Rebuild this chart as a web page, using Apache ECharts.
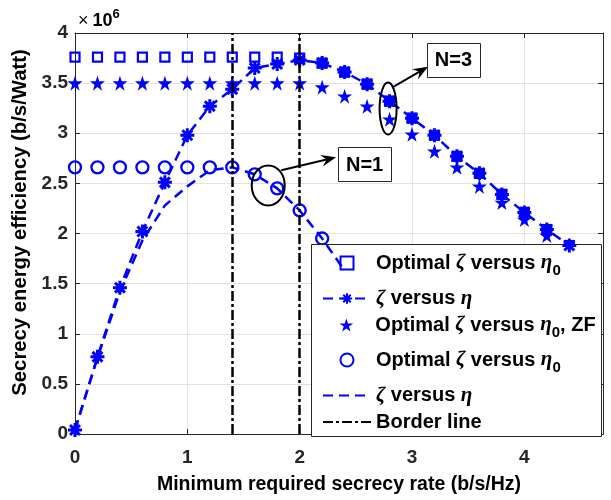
<!DOCTYPE html>
<html><head><meta charset="utf-8">
<script src="https://cdn.jsdelivr.net/npm/echarts@6/dist/echarts.min.js"></script>
<style>html,body{margin:0;padding:0;background:#fff}#c{width:611px;height:500px}</style>
</head><body><div id="c"></div>
<script>
// ---- data (values in units of 10^6 b/s/Watt) ----
const xRates   = [0,0.2,0.4,0.6,0.8,1.0,1.2,1.4,1.6,1.8,2.0,2.2,2.4,2.6,2.8,3.0,3.2,3.4,3.6,3.8,4.0,4.2,4.4];
const optN3    = [3.76,3.76,3.76,3.76,3.76,3.76,3.76,3.76,3.76,3.76,3.75,3.70,3.61,3.49,3.32,3.15,2.98,2.77,2.60,2.39,2.21,2.04,1.88];
const etaN3    = [0.04,0.77,1.46,2.02,2.51,2.98,3.27,3.44,3.65,3.69,3.73,3.70,3.61,3.49,3.32,3.15,2.98,2.77,2.60,2.39,2.21,2.04,1.88];
const optZF    = [3.50,3.50,3.50,3.50,3.50,3.50,3.50,3.50,3.50,3.50,3.50,3.46,3.37,3.27,3.14,2.99,2.82,2.66,2.47,2.31,2.14,1.98,1.83];
const xRatesN1 = [0,0.2,0.4,0.6,0.8,1.0,1.2,1.4,1.6,1.8,2.0,2.2,2.4];
const optN1    = [2.66,2.66,2.66,2.66,2.66,2.66,2.66,2.66,2.59,2.45,2.23,1.95,1.63];
const etaN1    = [0.04,0.76,1.42,1.93,2.28,2.47,2.63,2.66,2.59,2.45,2.23,1.95,1.63];
const borderX  = [1.4, 2.0];
const seriesNames = ['Optimal ζ versus η0 (N=3)','ζ versus η (N=3)','Optimal ζ versus η0, ZF','Optimal ζ versus η0 (N=1)','ζ versus η (N=1)','Border line'];
const legendTexts = ['{b|Optimal }{g|ζ}{b| versus }{g|η}{s|0}','{g|ζ}{b| versus }{g|η}','{b|Optimal }{g|ζ}{b| versus }{g|η}{s|0}{b|, ZF}','{b|Optimal }{g|ζ}{b| versus }{g|η}{s|0}','{g|ζ}{b| versus }{g|η}','{b|Border line}'];
const xAxisTitle = 'Minimum required secrecy rate (b/s/Hz)';
const yAxisTitle = 'Secrecy energy efficiency (b/s/Watt)';
// annotation anchors in data coordinates
const annotations = [
  {label:'N=1', ellipse:[1.72,2.48], rx:16.5, ry:20, from:[1.836,2.63], to:[2.324,2.76], box:[2.578,2.69]},
  {label:'N=3', ellipse:[2.787,3.246], rx:8.5, ry:26, from:[2.822,3.454], to:[3.142,3.663], box:[3.369,3.732]}
];

// ---- styling / layout ----
const FONT = 'Liberation Sans';
const BLUE = '#0000ff';
const AXC = '#262626';
const CLEAR = 'rgba(0,0,0,0)';
const ASTER = 'path://M10,0L10,20M0,10L20,10M2.93,2.93L17.07,17.07M17.07,2.93L2.93,17.07';
const STAR = 'path://M50,0L61.2,34.5L97.6,34.5L68.2,55.9L79.4,90.5L50,69.1L20.6,90.5L31.8,55.9L2.4,34.5L38.8,34.5Z';
const SQUARE = 'path://M0,0L10,0L10,10L0,10Z';
const legendRowTops = [247.5, 288, 309.5, 344.5, 385, 412];
const legendRowLefts = [339.5, 322, 339.5, 339.5, 322, 322];
const zip = (xs, ys) => ys.map((v, i) => [xs[i], v]);

const chart = echarts.init(document.getElementById('c'));

const axisCommon = {
  axisLine: {show: true, onZero: false, lineStyle: {color: AXC, width: 1}},
  axisTick: {show: true, inside: true, length: 5, lineStyle: {color: AXC, width: 1}},
};
const tickFont = {color: AXC, fontFamily: FONT, fontWeight: 'bold', fontSize: 19};
const nameFont = {color: '#000', fontFamily: FONT, fontWeight: 'bold'};
const legendRich = {
  b: {color: '#000', fontFamily: FONT, fontWeight: 'bold', fontSize: 20},
  g: {color: '#000', fontFamily: 'Liberation Serif', fontStyle: 'italic', fontSize: 21},
  s: {color: '#000', fontFamily: FONT, fontWeight: 'bold', fontSize: 15, lineHeight: 15, padding: [16, 0, 0, 0]}
};

const legends = seriesNames.map((n, i) => ({
  orient: 'vertical', left: legendRowLefts[i], top: legendRowTops[i], padding: 0,
  itemWidth: 48, itemHeight: 13, selectedMode: false,
  data: [n], formatter: () => legendTexts[i],
  textStyle: {color: '#000', fontFamily: FONT, fontWeight: 'bold', fontSize: 20, rich: legendRich}
}));

chart.setOption({
  animation: false,
  backgroundColor: '#fff',
  grid: {left: 75, right: 8, top: 33, bottom: 64},
  xAxis: [
    Object.assign({type: 'value', min: 0, max: 4.7, interval: 1, position: 'bottom',
      axisLabel: Object.assign({showMaxLabel: false, margin: 14}, tickFont),
      splitLine: {show: true, lineStyle: {color: '#e2e2e2', width: 1}},
      name: xAxisTitle, nameLocation: 'middle', nameGap: 41,
      nameTextStyle: Object.assign({fontSize: 19.5}, nameFont)}, axisCommon),
    Object.assign({type: 'value', min: 0, max: 4.7, interval: 1, position: 'top',
      axisLabel: {show: false}, splitLine: {show: false}}, axisCommon)
  ],
  yAxis: [
    Object.assign({type: 'value', min: 0, max: 4, interval: 0.5, position: 'left',
      axisLabel: Object.assign({margin: 7}, tickFont),
      splitLine: {show: true, lineStyle: {color: '#e2e2e2', width: 1}},
      name: yAxisTitle, nameLocation: 'middle', nameGap: 42, nameRotate: 90,
      nameTextStyle: Object.assign({fontSize: 20.3, padding: [0, 0, 0, 22]}, nameFont)}, axisCommon),
    Object.assign({type: 'value', min: 0, max: 4, interval: 0.5, position: 'right',
      axisLabel: {show: false}, splitLine: {show: false}}, axisCommon)
  ],
  legend: legends,
  series: [
    {name: seriesNames[0], type: 'scatter', data: zip(xRates, optN3), symbol: SQUARE, symbolSize: 9,
     itemStyle: {color: CLEAR, borderColor: BLUE, borderWidth: 2.2, opacity: 1}},
    {name: seriesNames[1], type: 'line', data: zip(xRates, etaN3), symbol: ASTER, symbolSize: 14, showSymbol: true,
     itemStyle: {color: BLUE, borderColor: BLUE, borderWidth: 3},
     lineStyle: {color: BLUE, width: 2.5, type: [10, 6]}},
    {name: seriesNames[2], type: 'scatter', data: zip(xRates, optZF), symbol: STAR, symbolSize: 15,
     itemStyle: {color: BLUE, opacity: 1}},
    {name: seriesNames[3], type: 'scatter', data: zip(xRatesN1, optN1), symbol: 'circle', symbolSize: 12,
     itemStyle: {color: CLEAR, borderColor: BLUE, borderWidth: 2.3, opacity: 1}},
    {name: seriesNames[4], type: 'line', data: zip(xRatesN1, etaN1), symbol: 'none',
     itemStyle: {color: CLEAR, borderColor: CLEAR},
     lineStyle: {color: BLUE, width: 2.5, type: [10, 6]}},
    {name: seriesNames[5], type: 'line', data: [], symbol: 'none',
     itemStyle: {color: CLEAR, borderColor: CLEAR},
     lineStyle: {color: '#000', width: 2.5, type: [10, 3, 3, 3]},
     markLine: {silent: true, symbol: ['none', 'none'], label: {show: false},
       lineStyle: {color: '#000', width: 2.5, type: [10, 3, 3, 3]},
       data: borderX.map(v => ({xAxis: v}))}}
  ]
});

// ---- annotations (legend frame, ellipses, arrows, label boxes, exponent) ----
function px(p) { return chart.convertToPixel({xAxisIndex: 0, yAxisIndex: 0}, p); }
const els = [];
els.push({type: 'rect', shape: {x: 311.5, y: 244.5, width: 290, height: 192},
  style: {fill: '#fff', stroke: AXC, lineWidth: 1}, z: 3, silent: true});
annotations.forEach(a => {
  const c = px(a.ellipse);
  els.push({type: 'ellipse', shape: {cx: c[0], cy: c[1], rx: a.rx, ry: a.ry},
    style: {fill: 'none', stroke: '#000', lineWidth: 2}, z: 5, silent: true});
  const s = px(a.from), t = px(a.to);
  const dx = t[0] - s[0], dy = t[1] - s[1], d = Math.hypot(dx, dy), ux = dx / d, uy = dy / d, nx = -uy, ny = ux;
  const L = 15, W = 12;
  const base = [t[0] - ux * L, t[1] - uy * L];
  const notch = [t[0] - ux * L * 0.65, t[1] - uy * L * 0.65];
  els.push({type: 'line', shape: {x1: s[0], y1: s[1], x2: notch[0], y2: notch[1]},
    style: {stroke: '#000', lineWidth: 2}, z: 5, silent: true});
  els.push({type: 'polygon', shape: {points: [t, [base[0] + nx * W / 2, base[1] + ny * W / 2], notch, [base[0] - nx * W / 2, base[1] - ny * W / 2]]},
    style: {fill: '#000'}, z: 5, silent: true});
  const b = px(a.box);
  els.push({type: 'rect', shape: {x: Math.round(b[0] - 26.5) + 0.5, y: Math.round(b[1] - 17) + 0.5, width: 53, height: 34},
    style: {fill: '#fff', stroke: AXC, lineWidth: 1}, z: 6, silent: true});
  els.push({type: 'text', x: b[0], y: b[1] + 1, z: 7, silent: true,
    style: {text: a.label, fill: '#000', font: 'bold 20px "Liberation Sans"', align: 'center', verticalAlign: 'middle', textAlign: 'center', textVerticalAlign: 'middle'}});
});
els.push({type: 'text', left: 78, top: 8, z: 7, silent: true,
  style: {text: '{x|×}{n|10}{e|6}', rich: {
    x: {fontFamily: FONT, fontSize: 18, color: '#555', lineHeight: 26, padding: [0, 4, 0, 0]},
    n: {fontFamily: FONT, fontWeight: 'bold', fontSize: 18, color: AXC, lineHeight: 26},
    e: {fontFamily: FONT, fontWeight: 'bold', fontSize: 13, color: AXC, lineHeight: 13, verticalAlign: 'top'}
  }}});
chart.setOption({graphic: {elements: els}});
</script>
</body></html>
